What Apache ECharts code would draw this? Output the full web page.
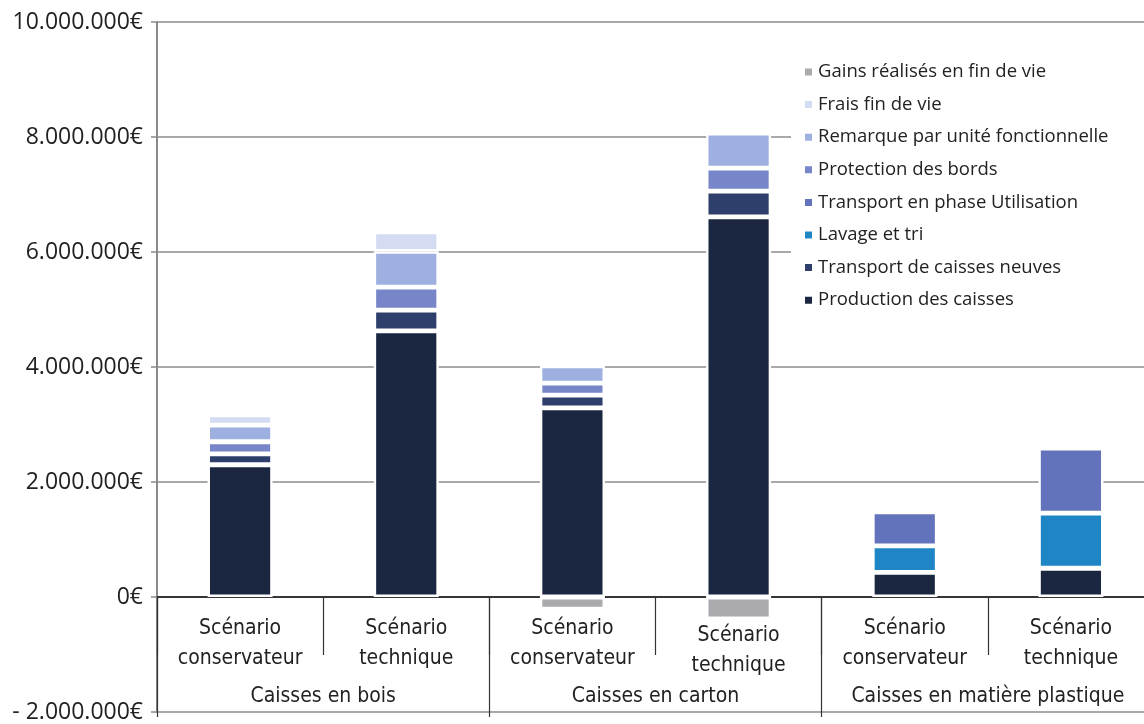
<!DOCTYPE html>
<html>
<head>
<meta charset="utf-8">
<script src="https://cdn.jsdelivr.net/npm/echarts@6/dist/echarts.min.js"></script>
<style>
  html, body { margin: 0; padding: 0; background: #fff; }
  #chart { width: 1144px; height: 724px; }
</style>
</head>
<body>
<div id="chart"></div>
<script>
// catégories (niveau 1 et niveau 2)
const scenarios = ['Scénario\nconservateur', 'Scénario\ntechnique', 'Scénario\nconservateur', 'Scénario\ntechnique', 'Scénario\nconservateur', 'Scénario\ntechnique']
const groups = ['Caisses en bois', 'Caisses en carton', 'Caisses en matière plastique']

// valeurs en euros
const production = [2300000, 4630000, 3290000, 6610000, 430000, 500000]
const transportNeuves = [190000, 360000, 220000, 450000, null, null]
const lavage = [null, null, null, null, 460000, 960000]
const transportUtil = [null, null, null, null, 590000, 1130000]
const protection = [210000, 400000, 210000, 400000, null, null]
const remarque = [290000, 620000, 300000, 610000, null, null]
const fraisFinVie = [180000, 340000, null, null, null, null]
const gains = [null, null, -210000, -380000, null, null]

const yTicks = [-2000000, 0, 2000000, 4000000, 6000000, 8000000, 10000000]

const labelFont = "'DejaVu Sans Condensed', 'DejaVu Sans', sans-serif"
const textFont = "'Open Sans', sans-serif"

function euro (v) {
  if (v === 0) return '0€'
  const s = Math.abs(v).toString().replace(/\B(?=(\d{3})+(?!\d))/g, '.')
  return (v < 0 ? '- ' : '') + s + '€'
}

const seriesDefs = [
  { name: 'Production des caisses', color: '#1b2640', data: production },
  { name: 'Transport de caisses neuves', color: '#2f3f6b', data: transportNeuves },
  { name: 'Lavage et tri', color: '#1f86c6', data: lavage },
  { name: 'Transport en phase Utilisation', color: '#6272bb', data: transportUtil },
  { name: 'Protection des bords', color: '#7686c8', data: protection },
  { name: 'Remarque par unité fonctionnelle', color: '#9db0e0', data: remarque },
  { name: 'Frais fin de vie', color: '#d3dcf2', data: fraisFinVie },
  { name: 'Gains réalisés en fin de vie', color: '#a9a9ae', data: gains }
]

const chart = echarts.init(document.getElementById('chart'))

const xData = scenarios.map((s, i) => i === 3 ? { value: s, textStyle: { padding: [7, 0, 0, 0] } } : s)

// l'axe des catégories est remonté sur la ligne du zéro (712 - 597 = 115 px)
const zeroOffset = -115

chart.setOption({
  animation: false,
  backgroundColor: '#fff',
  grid: { left: 157, top: 22, width: 997, height: 690, containLabel: false, outerBoundsMode: 'none' },
  legend: {
    data: seriesDefs.map(d => d.name).reverse(),
    orient: 'vertical',
    left: 791,
    top: 53,
    backgroundColor: '#fff',
    padding: [8, 60, 8, 12],
    icon: 'rect',
    itemWidth: 9,
    itemHeight: 9,
    itemGap: 10.6,
    textStyle: { fontFamily: textFont, fontSize: 18.5, color: '#222', lineHeight: 22 }
  },
  xAxis: [
    {
      type: 'category',
      position: 'bottom',
      offset: zeroOffset,
      data: xData,
      axisLine: { onZero: false, lineStyle: { color: '#111', width: 1.5 } },
      axisTick: { show: true, length: 58, lineStyle: { color: '#333', width: 1.2 } },
      axisLabel: {
        show: true,
        interval: 0,
        margin: 17,
        fontFamily: labelFont,
        fontSize: 21,
        lineHeight: 30,
        color: '#222'
      }
    },
    {
      type: 'category',
      position: 'bottom',
      offset: zeroOffset,
      data: groups,
      axisLine: { show: false, onZero: false },
      axisTick: { show: true, length: 120, lineStyle: { color: '#333', width: 1.2 } },
      axisLabel: {
        show: true,
        interval: 0,
        margin: 89,
        fontFamily: labelFont,
        fontSize: 21,
        color: '#222'
      }
    }
  ],
  yAxis: {
    type: 'value',
    min: yTicks[0],
    max: yTicks[yTicks.length - 1],
    interval: 2000000,
    axisLine: { show: true, lineStyle: { color: '#8a8a8a', width: 2 } },
    axisTick: { show: true, length: 6, lineStyle: { color: '#8a8a8a', width: 1.5 } },
    splitLine: { lineStyle: { color: '#8c8c8c', width: 1.5 } },
    axisLabel: {
      margin: 14,
      fontFamily: textFont,
      fontSize: 23,
      color: '#222',
      formatter: v => euro(v)
    }
  },
  series: seriesDefs.map(d => ({
    name: d.name,
    type: 'bar',
    stack: 'total',
    barWidth: 65,
    data: d.data,
    itemStyle: { color: d.color, borderColor: '#fff', borderWidth: 2.4 }
  }))
})
</script>
</body>
</html>
